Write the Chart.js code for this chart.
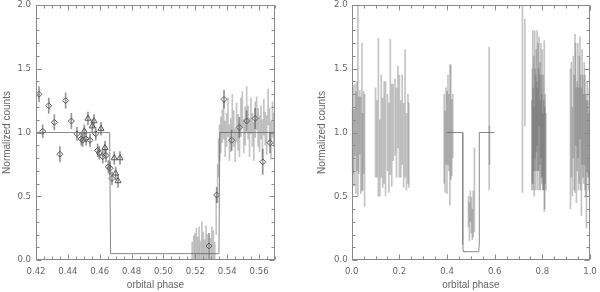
<!DOCTYPE html>
<html>
<head>
<meta charset="utf-8">
<script src="https://cdn.jsdelivr.net/npm/chart.js@4/dist/chart.umd.min.js"></script>
<style>
html,body{margin:0;padding:0;background:#fff;}
#wrap{position:relative;width:600px;height:292px;}
.pane{position:absolute;top:0;width:300px;height:292px;}
</style>
</head>
<body>
<div id="wrap">
  <div class="pane" style="left:0"><canvas id="c1" width="300" height="292"></canvas></div>
  <div class="pane" style="left:300px"><canvas id="c2" width="300" height="292"></canvas></div>
</div>
<script>
// ---------- tick labels ----------
const leftXTicks  = [0.42,0.44,0.46,0.48,0.50,0.52,0.54,0.56];
const rightXTicks = [0.0,0.2,0.4,0.6,0.8,1.0];
const yTicks      = [0.0,0.5,1.0,1.5,2.0];

// ---------- left panel: diamond points ----------
const leftDiaPhase = [0.4219,0.4242,0.4280,0.4315,0.4350,0.4386,0.4422,0.4457,0.4484,0.4493,0.4514,0.4539,0.4575,0.4587,0.4597,0.4619,0.4639,0.4654,0.4665,0.4677,0.5286,0.5334,0.5380,0.5428,0.5476,0.5522,0.5575,0.5623,0.5669];
const leftDiaVal   = [1.30,1.01,1.21,1.08,0.83,1.25,1.09,0.99,0.95,0.94,0.95,0.94,0.99,0.86,0.84,0.81,0.82,0.73,0.72,0.64,0.11,0.51,1.26,0.94,1.04,1.09,1.11,0.77,0.92];
const leftDiaErr   = [0.06,0.05,0.06,0.06,0.06,0.06,0.06,0.05,0.05,0.05,0.05,0.05,0.05,0.05,0.05,0.05,0.05,0.05,0.05,0.05,0.10,0.06,0.07,0.08,0.08,0.08,0.08,0.10,0.08];

// ---------- left panel: triangle points ----------
const leftTriPhase = [0.4503,0.4526,0.4553,0.4564,0.4608,0.4633,0.4691,0.4700,0.4715,0.4727];
const leftTriVal   = [1.01,1.11,1.05,1.09,1.03,0.88,0.80,0.68,0.62,0.80];
const leftTriErr   = [0.05,0.05,0.05,0.05,0.05,0.05,0.05,0.05,0.05,0.05];

// ---------- left panel: unmarked error bars ----------
const leftBarPhase = [0.5180,0.5190,0.5198,0.5207,0.5215,0.5224,0.5232,0.5241,0.5250,0.5258,0.5267,0.5276,0.5295,0.5304,0.5313,0.5322,0.5331,0.5340,0.5346,0.5352,
  0.5360,0.5369,0.5378,0.5387,0.5396,0.5405,0.5414,0.5423,0.5432,0.5441,0.5450,0.5459,0.5468,0.5477,0.5486,0.5495,0.5504,0.5513,0.5522,0.5531,0.5540,0.5549,0.5558,0.5567,0.5576,0.5585,0.5594,0.5603,0.5612,0.5621,0.5630,0.5639,0.5648,0.5657,0.5666,0.5675,0.5684,0.5693];
const leftBarVal   = [0.02,0.05,0.08,0.10,0.06,0.12,0.03,0.15,0.09,0.04,0.13,0.07,0.05,0.12,0.10,0.02,0.35,0.60,0.80,0.92,
  0.98,1.05,1.10,0.95,1.02,1.12,0.92,0.98,1.15,1.03,0.90,1.08,1.00,0.94,1.12,1.18,0.97,1.05,1.22,1.08,0.96,1.13,1.02,0.93,1.10,1.15,1.04,0.99,1.08,0.95,1.12,1.03,0.98,1.20,1.06,0.94,1.10,1.02];
const leftBarErr   = [0.12,0.14,0.13,0.15,0.12,0.14,0.12,0.15,0.13,0.12,0.14,0.13,0.12,0.14,0.13,0.12,0.15,0.15,0.15,0.14,
  0.14,0.13,0.15,0.14,0.13,0.15,0.14,0.13,0.15,0.14,0.13,0.15,0.14,0.13,0.15,0.14,0.13,0.15,0.14,0.13,0.15,0.14,0.13,0.15,0.14,0.13,0.15,0.14,0.13,0.15,0.14,0.13,0.15,0.14,0.13,0.15,0.14,0.13];

// ---------- left panel: eclipse model ----------
const modelLeftPhase = [0.42,0.4662,0.4668,0.5348,0.5354,0.57];
const modelLeftVal   = [1.0,1.0,0.05,0.05,1.0,1.0];

// ---------- right panel: error bars ----------
const rightPhase = [
  0.002,0.006,0.010,0.014,0.018,0.022,0.026,0.030,0.034,0.038,0.043,0.046,0.050,0.054,
  0.100,0.106,0.112,0.118,0.124,0.130,0.136,0.142,0.150,0.156,0.162,0.168,0.174,0.182,0.188,0.194,0.200,0.206,0.212,0.218,0.224,0.230,0.236,0.240,
  0.388,0.392,0.396,0.400,0.404,0.408,0.412,0.416,0.420,0.424,
  0.490,0.494,0.498,0.502,0.506,0.510,0.515,
  0.577,0.578,
  0.7165,0.7266,
  0.756,0.758,0.760,0.762,0.764,0.766,0.768,0.770,0.772,0.774,0.776,0.778,0.780,0.782,0.784,0.786,0.788,0.790,0.792,0.794,0.796,0.798,0.800,0.802,0.804,0.806,0.808,0.810,0.812,0.815,
  0.918,0.922,0.926,0.930,0.934,0.937,0.940,0.943,0.946,0.949,0.952,0.955,0.958,0.961,0.964,0.967,0.970,0.973,0.976,0.979,0.982,0.985,0.988,0.991,0.994,0.997,0.999];
const rightVal = [
  0.95,1.02,0.88,1.10,0.92,1.05,1.25,0.98,1.08,0.90,1.12,0.85,1.00,0.86,
  1.00,0.95,1.12,0.80,1.05,0.92,1.00,0.95,1.00,0.88,1.20,0.98,1.08,1.12,1.00,1.20,1.05,0.95,1.10,0.90,1.15,0.85,0.95,0.90,
  0.95,0.85,1.05,0.92,1.10,1.00,0.98,1.08,0.96,1.05,
  0.38,0.30,0.42,0.35,0.28,0.36,0.55,
  1.11,0.90,
  1.28,1.47,
  0.90,1.05,1.20,0.95,1.15,0.85,1.30,1.10,1.00,1.25,1.05,1.35,0.95,1.20,1.10,1.40,1.00,1.15,0.90,1.25,1.05,0.95,1.15,0.85,1.00,0.90,1.05,0.80,0.95,0.85,
  0.95,1.10,0.85,1.20,1.00,1.15,1.30,0.90,1.05,1.25,0.95,1.10,1.35,1.00,0.85,1.20,1.05,0.95,1.15,1.00,0.90,0.75,1.05,0.95,0.85,1.00,0.90];
const rightErr = [
  0.25,0.35,0.30,0.28,0.40,0.35,0.75,0.30,0.25,0.38,0.58,0.30,0.32,0.44,
  0.35,0.30,0.62,0.30,0.40,0.35,0.40,0.45,0.30,0.35,0.53,0.40,0.30,0.30,0.35,0.32,0.40,0.30,0.35,0.33,0.50,0.30,0.35,0.33,
  0.35,0.32,0.30,0.40,0.35,0.30,0.55,0.45,0.30,0.25,
  0.12,0.15,0.12,0.14,0.12,0.18,0.33,
  0.56,0.15,
  0.75,0.42,
  0.35,0.45,0.60,0.40,0.45,0.35,0.50,0.40,0.45,0.40,0.35,0.45,0.40,0.50,0.40,0.35,0.45,0.40,0.35,0.45,0.40,0.35,0.50,0.30,0.45,0.35,0.67,0.40,0.35,0.30,
  0.55,0.45,0.35,0.40,0.45,0.62,0.40,0.45,0.35,0.45,0.40,0.50,0.40,0.45,0.50,0.45,0.40,0.35,0.40,0.45,0.40,0.50,0.35,0.30,0.30,0.35,0.30];

// ---------- right panel: eclipse model ----------
const modelRightPhase = [0.40,0.4655,0.4662,0.4675,0.4700,0.5310,0.5335,0.5348,0.5355,0.60];
const modelRightVal   = [1.0,1.0,0.12,0.075,0.065,0.065,0.075,0.12,1.0,1.0];

// ---------- helpers ----------
const TXT = '#666';
const BAR = 'rgba(100,100,100,0.38)';
const tickFont  = {family:"'Liberation Sans Narrow','DejaVu Sans Condensed','Liberation Sans',sans-serif", size:9.5};
const titleFont = {family:"'Liberation Sans',sans-serif", size:10};

function errBars(px, v, e){ return px.map((p,i)=>({x:p, y:[v[i]-e[i], v[i]+e[i]]})); }
function pts(px, v){ return px.map((p,i)=>({x:p, y:v[i]})); }

const frameTicks = {
  id:'frameTicks',
  afterDatasetsDraw(chart, args, o){
    const {ctx, chartArea:a, scales:{x, y}} = chart;
    ctx.save();
    ctx.strokeStyle = '#8a8a8a'; ctx.lineWidth = 1;
    const L = Math.round(a.left)+0.5, R = Math.round(a.right)-0.5, T = Math.round(a.top)+0.5, B = Math.round(a.bottom)-0.5;
    ctx.strokeRect(L, T, R-L, B-T);
    ctx.beginPath();
    const nx = Math.round((x.max-x.min)/o.xMinor);
    for(let i=0;i<=nx;i++){
      const v = x.min + i*o.xMinor;
      const r = (v - x.min)/o.xMajor;
      const len = Math.abs(r-Math.round(r))<1e-6 ? 5 : 3;
      const px = Math.round(x.getPixelForValue(v))+0.5;
      ctx.moveTo(px,B); ctx.lineTo(px,B-len);
      ctx.moveTo(px,T); ctx.lineTo(px,T+len);
    }
    const ny = Math.round((y.max-y.min)/o.yMinor);
    for(let i=0;i<=ny;i++){
      const v = y.min + i*o.yMinor;
      const r = (v - y.min)/o.yMajor;
      const len = Math.abs(r-Math.round(r))<1e-6 ? 5 : 3;
      const py = Math.round(y.getPixelForValue(v))+0.5;
      ctx.moveTo(L,py); ctx.lineTo(L+len,py);
      ctx.moveTo(R,py); ctx.lineTo(R-len,py);
    }
    ctx.stroke();
    ctx.restore();
  }
};

function makeChart(id, cfg){
  return new Chart(document.getElementById(id), {
    type:'scatter',
    data:{datasets:cfg.datasets},
    options:{
      responsive:false, animation:false, devicePixelRatio:1,
      layout:{padding:cfg.padding},
      plugins:{legend:{display:false}, tooltip:{enabled:false}, frameTicks:cfg.ticks},
      scales:{
        x:{type:'linear', min:cfg.xmin, max:cfg.xmax, offset:false,
           grid:{display:false, drawTicks:false, offset:false}, border:{display:false},
           afterBuildTicks:s=>{ s.ticks = cfg.xTicks.map(v=>({value:v})); },
           afterFit:s=>{ s.height = 32; s.paddingLeft = 0; s.paddingRight = 0; },
           ticks:{color:TXT, font:tickFont, padding:6, maxRotation:0, autoSkip:false, callback:v=>v.toFixed(cfg.xDec)},
           title:{display:true, text:'orbital phase', color:TXT, font:titleFont, padding:{top:0,bottom:0.5}}},
        y:{type:'linear', min:0, max:2, 
           grid:{display:false, drawTicks:false}, border:{display:false},
           afterBuildTicks:s=>{ s.ticks = yTicks.map(v=>({value:v})); },
           afterFit:s=>{ s.width = cfg.yWidth; s.paddingTop = 0; s.paddingBottom = 0; },
           ticks:{color:TXT, font:tickFont, padding:cfg.yPad, autoSkip:false, callback:v=>v.toFixed(1)},
           title:{display:true, text:'Normalized counts', color:TXT, font:titleFont, padding:{top:1,bottom:0}}}
      }
    },
    plugins:[frameTicks]
  });
}

const barOpts = {type:'bar', backgroundColor:BAR, borderWidth:0, barThickness:1, grouped:false, clip:0};

makeChart('c1', {
  padding:{left:0, right:25, top:5, bottom:0},
  xmin:0.42, xmax:0.57, xTicks:leftXTicks, xDec:2, yWidth:36, yPad:5,
  ticks:{xMinor:0.005, xMajor:0.02, yMinor:0.1, yMajor:0.5},
  datasets:[
    Object.assign({data:errBars(leftBarPhase,leftBarVal,leftBarErr)}, barOpts),
    Object.assign({data:errBars(leftDiaPhase,leftDiaVal,leftDiaErr)}, barOpts, {backgroundColor:'rgba(80,80,80,0.6)'}),
    Object.assign({data:errBars(leftTriPhase,leftTriVal,leftTriErr)}, barOpts, {backgroundColor:'rgba(80,80,80,0.6)'}),
    {type:'line', data:pts(modelLeftPhase,modelLeftVal), borderColor:'#8a8a8a', borderWidth:1, pointRadius:0, tension:0, clip:0},
    {type:'scatter', data:pts(leftDiaPhase,leftDiaVal), pointStyle:'rectRot', pointRadius:3, borderColor:'#5a5a5a', backgroundColor:'rgba(255,255,255,0)', pointBorderWidth:1, clip:0},
    {type:'scatter', data:pts(leftTriPhase,leftTriVal), pointStyle:'triangle', pointRadius:3.5, borderColor:'#5a5a5a', backgroundColor:'rgba(255,255,255,0)', pointBorderWidth:1, clip:0}
  ]
});

makeChart('c2', {
  padding:{left:15, right:10, top:5, bottom:0},
  xmin:0, xmax:1, xTicks:rightXTicks, xDec:1, yWidth:36.7, yPad:4,
  ticks:{xMinor:0.05, xMajor:0.2, yMinor:0.1, yMajor:0.5},
  datasets:[
    Object.assign({data:errBars(rightPhase,rightVal,rightErr)}, barOpts),
    {type:'line', data:pts(modelRightPhase,modelRightVal), borderColor:'#8a8a8a', borderWidth:1, pointRadius:0, tension:0, clip:0}
  ]
});
</script>
</body>
</html>
